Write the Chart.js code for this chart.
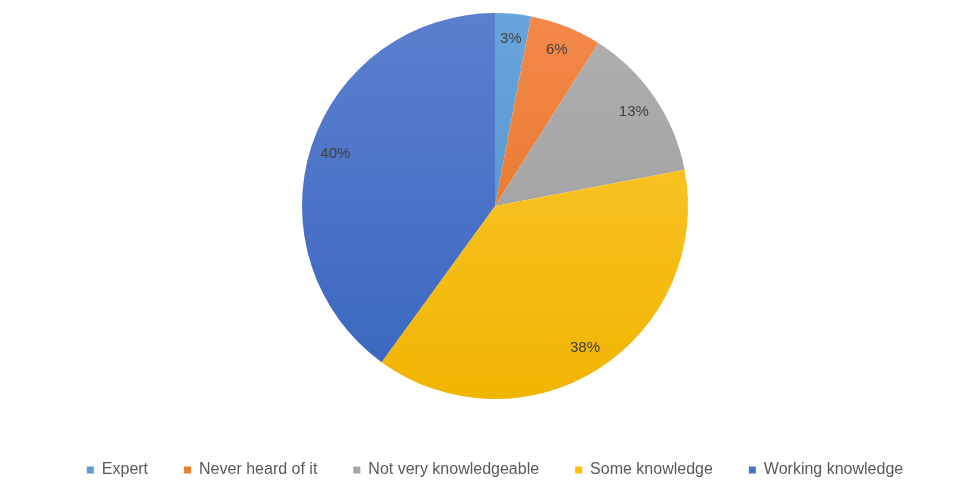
<!DOCTYPE html>
<html>
<head>
<meta charset="utf-8">
<script src="https://cdn.jsdelivr.net/npm/chart.js@4"></script>
<style>
  html, body { margin: 0; padding: 0; background: #fff; }
  #wrap { width: 960px; height: 481px; }
</style>
</head>
<body>
<div id="wrap"><canvas id="pie"></canvas></div>
<script>
// ===== data =====
const categories = ["Expert", "Never heard of it", "Not very knowledgeable", "Some knowledge", "Working knowledge"];
const shares = [3, 6, 13, 38, 40];

// ===== colours (base / top of gradient / bottom of gradient) =====
const baseColors = ["#5B9BD5", "#ED7D31", "#A5A5A5", "#FFC000", "#4472C4"];
const topColors = ["#6AA6DD", "#F4894A", "#B0B0B0", "#FFCB38", "#5C80CF"];
const bottomColors = ["#4E8DC8", "#E0701F", "#999999", "#F0B400", "#3865BF"];

function sliceFill(c) {
    const chart = c.chart;
    const area = chart.chartArea;
    if (!area) return baseColors[c.dataIndex];
    const g = chart.ctx.createLinearGradient(0, area.top, 0, area.bottom);
    g.addColorStop(0, topColors[c.dataIndex]);
    g.addColorStop(1, bottomColors[c.dataIndex]);
    return g;
}

// percent labels inside slices
const sliceLabels = {
    id: "sliceLabels",
    afterDatasetsDraw(chart) {
        const ctx = chart.ctx;
        const meta = chart.getDatasetMeta(0);
        ctx.save();
        ctx.font = "15px 'Liberation Sans', Arial, sans-serif";
        ctx.fillStyle = "#404040";
        ctx.textAlign = "center";
        ctx.textBaseline = "middle";
        meta.data.forEach((arc, i) => {
            const p = arc.getProps(["x", "y", "startAngle", "endAngle", "outerRadius"], true);
            const mid = (p.startAngle + p.endAngle) / 2;
            const r = p.outerRadius * 0.87;
            ctx.fillText(shares[i] + "%", p.x + Math.cos(mid) * r, p.y + Math.sin(mid) * r);
        });
        ctx.restore();
    }
};

// nudge the legend row down and lift the pie a little
const legendShift = {
    id: "legendShift",
    afterLayout(chart) {
        if (chart.legend) {
            chart.legend.top += 7;
            chart.legend.bottom += 7;
        }
        chart.chartArea.bottom -= 7;
        chart.chartArea.height -= 7;
    }
};

new Chart(document.getElementById("pie"), {
    type: "pie",
    data: {
        labels: categories,
        datasets: [{
            data: shares,
            backgroundColor: sliceFill,
            borderWidth: 0,
            radius: 193,
        }],
    },
    options: {
        responsive: true,
        maintainAspectRatio: false,
        animation: false,
        layout: { padding: { top: 0, left: 30, right: 0, bottom: 0 } },
        plugins: {
            tooltip: { enabled: false },
            legend: {
                position: "bottom",
                labels: {
                    boxWidth: 7,
                    boxHeight: 7,
                    padding: 36,
                    color: "#595959",
                    font: { family: "'Liberation Sans', Arial, sans-serif", size: 16 },
                    generateLabels(chart) {
                        return categories.map((name, i) => ({
                            text: name,
                            fillStyle: baseColors[i],
                            strokeStyle: baseColors[i],
                            lineWidth: 0,
                            fontColor: "#595959",
                            index: i,
                            hidden: false,
                        }));
                    },
                },
            },
        },
    },
    plugins: [sliceLabels, legendShift],
});
</script>
</body>
</html>
